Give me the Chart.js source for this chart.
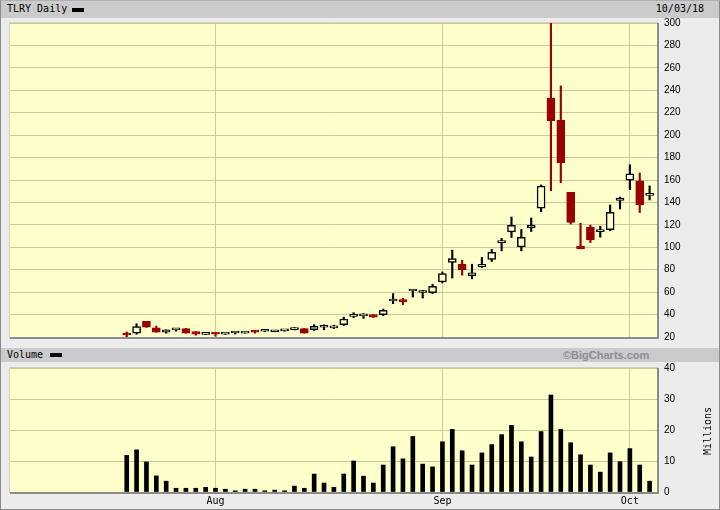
<!DOCTYPE html>
<html>
<head>
<meta charset="utf-8">
<script src="https://cdn.jsdelivr.net/npm/chart.js@4.4.0/dist/chart.umd.min.js"></script>
<style>
  body { margin: 0; background: #ececec; }
  #wrap { position: relative; width: 720px; height: 510px; background: #ececec; overflow: hidden;
          font-family: 'DejaVu Sans Mono', monospace; font-size: 10px; color: #000; }
  .head { position: absolute; left: 1px; width: 718px; background: #cbcbcb; }
  .txt { position: absolute; white-space: nowrap; line-height: 12px; }
  .dash { position: absolute; width: 12px; height: 4px; background: #000; }
  #frame { position: absolute; left: 0; top: 0; width: 720px; height: 510px; box-sizing: border-box;
           border: 1px solid #8a8a8a; border-top-color: #b0b0b0; pointer-events: none; }
  canvas { position: absolute; left: 0; }
</style>
</head>
<body>
<div id="wrap">
  <div class="head" style="top:1px;height:17px;"></div>
  <div class="txt" style="left:7px;top:3px;">TLRY Daily</div>
  <div class="dash" style="left:72px;top:8px;"></div>
  <div class="txt" style="right:16px;top:3px;">10/03/18</div>

  <div class="head" style="top:348px;height:14px;"></div>
  <div class="txt" style="left:7px;top:349px;">Volume</div>
  <div class="dash" style="left:50px;top:353px;"></div>
  <div class="txt" style="left:563px;top:349px;font-family:'Liberation Sans',sans-serif;font-weight:bold;font-size:11px;color:#8e8e8e;">&copy;BigCharts.com</div>

  <canvas id="priceChart" width="720" height="345" style="top:0;"></canvas>
  <canvas id="volumeChart" width="720" height="165" style="top:345px;"></canvas>

  <div class="txt" style="left:684px;top:425px;transform:rotate(-90deg);transform-origin:center;">Millions</div>
  <div id="frame"></div>
</div>

<script>
const dates = [
  'Jul 19', 'Jul 20', 'Jul 23', 'Jul 24', 'Jul 25', 'Jul 26', 'Jul 27', 'Jul 30', 'Jul 31',
  'Aug 1', 'Aug 2', 'Aug 3', 'Aug 6', 'Aug 7', 'Aug 8', 'Aug 9', 'Aug 10', 'Aug 13', 'Aug 14',
  'Aug 15', 'Aug 16', 'Aug 17', 'Aug 20', 'Aug 21', 'Aug 22', 'Aug 23', 'Aug 24', 'Aug 27',
  'Aug 28', 'Aug 29', 'Aug 30', 'Aug 31',
  'Sep 4', 'Sep 5', 'Sep 6', 'Sep 7', 'Sep 10', 'Sep 11', 'Sep 12', 'Sep 13', 'Sep 14',
  'Sep 17', 'Sep 18', 'Sep 19', 'Sep 20', 'Sep 21', 'Sep 24', 'Sep 25', 'Sep 26', 'Sep 27', 'Sep 28',
  'Oct 1', 'Oct 2', 'Oct 3'
];

const opens = [
  23.3, 23.4, 33.9, 28.2, 24.3, 26.3, 27.6, 24.9, 22.4,
  24.0, 22.6, 23.6, 23.4, 25.8, 25.1, 24.7, 25.4, 26.6, 27.6,
  26.6, 28.7, 28.2, 30.9, 38.4, 38.9, 39.9, 39.9, 52.1,
  52.9, 61.0, 59.7, 59.6,
  69.1, 86.4, 84.9, 74.8, 82.5, 89.1, 104.2, 113.6, 100.4,
  117.2, 134.8, 233.1, 213.4, 148.9, 101.0, 117.9, 114.0, 115.7, 141.8,
  159.9, 159.2, 146.3
];
const highs = [
  24.5, 31.8, 34.0, 29.7, 26.4, 27.6, 27.6, 24.9, 23.0,
  24.0, 23.7, 24.3, 24.9, 25.8, 25.6, 25.8, 25.9, 28.3, 27.6,
  31.0, 30.9, 30.6, 37.7, 41.7, 40.8, 40.0, 44.9, 58.7,
  54.5, 62.5, 61.6, 67.0,
  78.0, 97.4, 88.5, 84.9, 90.9, 98.1, 107.9, 127.0, 115.9,
  126.1, 155.6, 300.0, 243.9, 148.9, 121.5, 119.8, 118.8, 137.7, 144.8,
  173.6, 166.3, 154.7
];
const lows = [
  19.8, 22.5, 28.6, 24.2, 23.4, 25.2, 23.4, 21.6, 22.0,
  20.7, 22.3, 22.6, 23.4, 23.4, 24.8, 24.6, 25.1, 26.3, 23.4,
  25.8, 26.4, 27.5, 30.3, 37.2, 36.6, 37.4, 39.0, 49.7,
  48.8, 55.6, 54.7, 58.7,
  68.2, 72.6, 75.1, 71.8, 82.0, 87.3, 96.8, 108.7, 96.8,
  114.1, 131.7, 150.5, 157.6, 120.7, 98.6, 104.2, 109.0, 114.7, 134.1,
  151.4, 131.0, 142.2
];
const closes = [
  21.8, 29.4, 28.8, 24.3, 26.4, 26.4, 23.4, 22.5, 22.5,
  22.5, 23.6, 23.7, 24.9, 24.3, 25.2, 25.8, 25.5, 26.7, 23.4,
  29.6, 28.8, 29.7, 35.9, 39.9, 39.0, 37.7, 43.7, 53.6,
  51.5, 62.5, 59.8, 65.2,
  76.6, 90.0, 80.1, 77.3, 84.9, 95.4, 104.3, 119.6, 108.8,
  119.9, 154.5, 212.8, 175.5, 122.1, 98.6, 106.6, 114.1, 131.2, 143.9,
  165.5, 138.0, 147.3
];
// volume, millions of shares
const volumes = [
  11.8, 13.6, 9.7, 5.2, 3.5, 1.2, 1.2, 1.2, 1.5,
  1.2, 0.9, 0.4, 0.9, 0.9, 0.4, 0.6, 0.4, 1.9, 1.2,
  5.8, 2.9, 1.5, 5.8, 10.0, 5.1, 2.9, 8.7, 14.6,
  10.7, 17.9, 9.0, 8.1,
  16.2, 20.2, 13.3, 8.7, 12.6, 15.3, 18.5, 21.5, 16.2,
  11.3, 19.5, 31.3, 20.2, 15.9, 12.0, 8.7, 6.4, 12.6, 9.8,
  14.0, 8.7, 3.5
];

const priceTicks = [20, 40, 60, 80, 100, 120, 140, 160, 180, 200, 220, 240, 260, 280, 300];
const volumeTicks = [0, 10, 20, 30, 40];

// first trading day of each month gets a gridline + label
const monthTicks = [];
const monthLabels = {};
dates.forEach((d, i) => {
  const m = d.split(' ')[0];
  if (i > 0 && m !== dates[i - 1].split(' ')[0]) {
    monthTicks.push(i);
    monthLabels[i] = m;
  }
});

const up = opens.map((o, i) => closes[i] >= opens[i]);
const PLOT_BG = '#ffffcc';
const RED = '#990000';
const GRID = '#cbcb96';

Chart.defaults.font.family = "'Liberation Sans', sans-serif";
Chart.defaults.font.size = 10;
Chart.defaults.color = '#000';
Chart.defaults.animation = false;

const panel = {
  id: 'panel',
  beforeDraw(chart) {
    const { ctx, chartArea: a } = chart;
    ctx.save();
    ctx.fillStyle = PLOT_BG;
    ctx.fillRect(a.left, a.top, a.width, a.height);
    ctx.restore();
  },
  afterDraw(chart) {
    const { ctx, chartArea: a } = chart;
    ctx.save();
    ctx.strokeStyle = '#d0d0c0';
    ctx.lineWidth = 1;
    ctx.strokeRect(a.left - 0.5, a.top - 0.5, a.width + 1, a.height + 1);
    ctx.strokeStyle = '#8c8c8c';
    ctx.lineWidth = 2;
    ctx.beginPath();
    ctx.moveTo(a.left, a.bottom + 1);
    ctx.lineTo(a.right + 1, a.bottom + 1);
    ctx.lineTo(a.right + 1, a.top);
    ctx.stroke();
    ctx.restore();
  }
};

function xScale(showLabels, height) {
  return {
    type: 'linear',
    min: -11.83,
    max: 53.75,
    offset: false,
    border: { display: false },
    grid: { color: GRID, offset: false, drawTicks: false },
    afterBuildTicks: s => { s.ticks = monthTicks.map(v => ({ value: v })); },
    afterFit: s => { s.height = height; s.paddingLeft = 0; s.paddingRight = 0; },
    ticks: {
      display: showLabels,
      padding: 3,
      font: { family: "'DejaVu Sans Mono', monospace", size: 10 },
      callback: v => monthLabels[v] || ''
    }
  };
}

function yScale(min, max, ticks) {
  return {
    position: 'right',
    min: min,
    max: max,
    border: { display: false },
    grid: { color: GRID, drawTicks: false },
    afterBuildTicks: s => { s.ticks = ticks.map(v => ({ value: v })); },
    afterFit: s => { s.width = 63; s.paddingTop = 0; s.paddingBottom = 0; },
    ticks: { padding: 7 }
  };
}

new Chart(document.getElementById('priceChart'), {
  type: 'bar',
  data: {
    datasets: [
      {
        label: 'body',
        order: 0,
        grouped: false,
        data: opens.map((o, i) => ({ x: i, y: [o, closes[i]] })),
        backgroundColor: up.map(u => u ? PLOT_BG : RED),
        borderColor: up.map(u => u ? '#000' : RED),
        borderWidth: 1.5,
        borderSkipped: false,
        barThickness: 8,
        minBarLength: 2
      },
      {
        label: 'wick',
        order: 1,
        grouped: false,
        data: lows.map((l, i) => ({ x: i, y: [l, highs[i]] })),
        backgroundColor: up.map(u => u ? '#000' : RED),
        borderWidth: 0,
        barThickness: 1.5
      }
    ]
  },
  options: {
    responsive: false,
    layout: { padding: { left: 10, top: 23, right: 0, bottom: 8 } },
    plugins: { legend: { display: false }, tooltip: { enabled: false } },
    scales: {
      x: xScale(false, 0),
      y: yScale(20, 300, priceTicks)
    }
  },
  plugins: [panel]
});

new Chart(document.getElementById('volumeChart'), {
  type: 'bar',
  data: {
    datasets: [{
      label: 'Volume',
      data: volumes.map((v, i) => ({ x: i, y: v })),
      backgroundColor: '#000',
      barThickness: 4
    }]
  },
  options: {
    responsive: false,
    layout: { padding: { left: 10, top: 23, right: 0, bottom: 0 } },
    plugins: { legend: { display: false }, tooltip: { enabled: false } },
    scales: {
      x: xScale(true, 18),
      y: yScale(0, 40, volumeTicks)
    }
  },
  plugins: [panel]
});
</script>
</body>
</html>
